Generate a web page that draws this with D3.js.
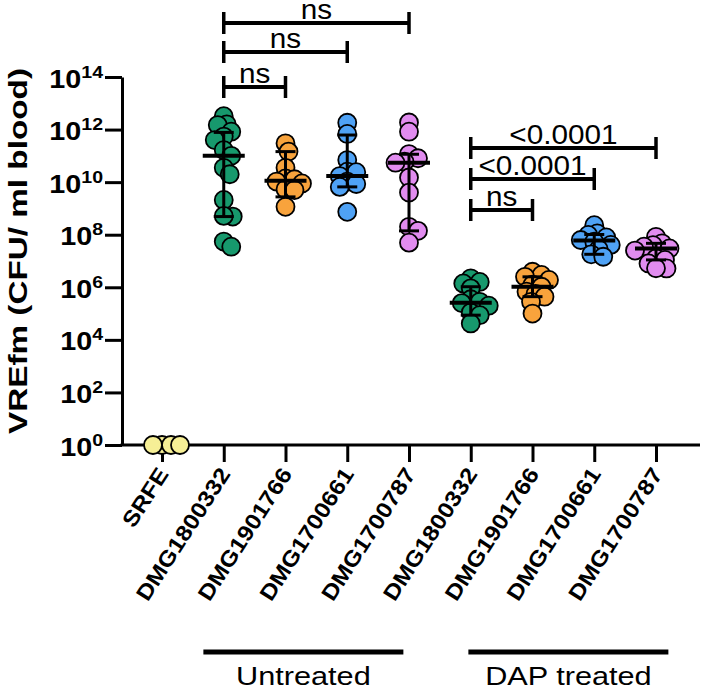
<!DOCTYPE html>
<html><head><meta charset="utf-8">
<script src="https://cdn.jsdelivr.net/npm/d3@7"></script>
<style>
body{margin:0;background:#fff}
text{font-family:"Liberation Sans",Arial,Helvetica,sans-serif;fill:#000}
</style>
</head><body>
<svg id="chart" width="705" height="692"></svg>
<script>
// ---------- data ----------
const categories = ["SRFE","DMG1800332","DMG1901766","DMG1700661","DMG1700787",
                    "DMG1800332","DMG1901766","DMG1700661","DMG1700787"];
const groupColors = ["#f6ef96","#17996d","#f8a33c","#4fa2f5","#e18cef",
                     "#17996d","#f8a33c","#4fa2f5","#e18cef"];
const yTickValues = [1e0,1e2,1e4,1e6,1e8,1e10,1e12,1e14];
const yTickExponents = ["0","2","4","6","8","10","12","14"];

const srfe = [1,1,1,1];
const untreated1800332 = [3.24e12,1.58e12,1.48e12,8.3e11,5.4e11,4.0e11,1.66e11,1.0e11,3.5e10,2.0e10,2.1e9,4.9e8,5.2e8,5.5e7,3.5e7];
const untreated1901766 = [3.0e11,1.45e11,3.5e10,1.38e10,1.29e10,1.05e10,8.9e9,5.4e9,5.0e9,1.15e9];
const untreated1700661 = [1.82e12,6.8e11,6.9e10,2.5e10,2.4e10,1.7e10,1.05e10,8.5e9,6.6e9,7.4e8];
const untreated1700787 = [1.86e12,8.3e11,1.17e11,8.1e10,6.0e10,5.5e10,1.5e10,4.0e9,2.0e8,1.4e8,5.0e7];
const dap1800332 = [2.2e6,1.6e6,1.4e6,9.1e5,3.5e5,2.8e5,2.5e5,2.0e5,1.1e5,8.7e4,4.2e4];
const dap1901766 = [3.9e6,2.95e6,2.5e6,1.9e6,1.26e6,1.05e6,6.8e5,5.6e5,4.4e5,2.8e5,1.0e5];
const dap1700661 = [2.3e8,1.12e8,9.8e7,7.9e7,6.3e7,5.4e7,4.1e7,2.8e7,1.8e7,1.45e7];
const dap1700787 = [8.3e7,4.7e7,4.0e7,3.5e7,3.0e7,2.5e7,1.26e7,1.1e7,8.1e6,5.2e6,5.3e6];

// median and interquartile error bars (null = not drawn)
const medians = [null,1.0e11,1.12e10,1.7e10,5.5e10,2.6e5,1.05e6,6.0e7,3.0e7];
const lowerBars = [null,4.9e8,2.75e9,6.6e9,1.4e8,8.7e4,4.4e5,1.8e7,1.1e7];
const upperBars = [null,7.8e11,1.45e11,6.2e11,1.15e11,1.05e6,2.5e6,1.02e8,4.7e7];

const comparisons = [
  {a:1,b:2,label:"ns",family:"untreated",level:0},
  {a:1,b:3,label:"ns",family:"untreated",level:1},
  {a:1,b:4,label:"ns",family:"untreated",level:2},
  {a:5,b:6,label:"ns",family:"dap",level:0},
  {a:5,b:7,label:"<0.0001",family:"dap",level:1},
  {a:5,b:8,label:"<0.0001",family:"dap",level:2}
];
const groupLabels = [
  {label:"Untreated",first:1,last:4},
  {label:"DAP treated",first:5,last:8}
];
const series = [srfe,untreated1800332,untreated1901766,untreated1700661,untreated1700787,
                dap1800332,dap1901766,dap1700661,dap1700787];

// ---------- layout ----------
const svg = d3.select("#chart");
const axisX = 122, axisBottom = 445, axisTop = 77, axisRight = 700;
const y = d3.scaleLog().domain([1,1e14]).range([axisBottom, axisTop]);
const x = d3.scalePoint().domain(d3.range(categories.length)).range([162,656]);
const R = 9, minDist = 8.6, step = 1.5;

// y axis
const gy = svg.append("g").attr("transform",`translate(${axisX},0)`)
  .call(d3.axisLeft(y).tickValues(yTickValues).tickSize(17).tickSizeOuter(0).tickFormat(""));
gy.select(".domain").attr("stroke","#000").attr("stroke-width",3);
gy.selectAll(".tick line").attr("stroke","#000").attr("stroke-width",3);
gy.selectAll(".tick").each(function(d,i){
  const t = d3.select(this).append("text")
    .attr("transform","translate(-19,10) scale(1.15,1)")
    .attr("text-anchor","end")
    .attr("font-size",25)
    .style("font-weight","bold");
  t.append("tspan").attr("font-size",25).style("font-size","25px").text("10");
  t.append("tspan").attr("dy",-10).attr("font-size",17).style("font-size","17px").text(yTickExponents[i]);
});

// y title
svg.append("text").attr("transform",`translate(27,251) rotate(-90) scale(1.28,1)`)
  .attr("text-anchor","middle").style("font-size","26px").style("font-weight","bold")
  .text("VREfm (CFU/ ml blood)");

// x axis
const gx = svg.append("g").attr("transform",`translate(0,${axisBottom})`)
  .call(d3.axisBottom(x).tickSize(17).tickSizeOuter(0).tickFormat(""));
gx.select(".domain").remove();
gx.selectAll(".tick line").attr("stroke","#000").attr("stroke-width",3);
svg.append("line").attr("x1",axisX-1.5).attr("x2",axisRight).attr("y1",axisBottom).attr("y2",axisBottom)
  .attr("stroke","#000").attr("stroke-width",3);
gx.selectAll(".tick").append("text")
  .attr("transform","translate(7,29) rotate(-57) scale(1.12,1)")
  .attr("text-anchor","end").attr("font-size",22).style("font-size","22px").style("font-weight","bold")
  .text(i=>categories[i]);

// points (beeswarm)
function swarm(vals){
  const placed = [];
  const order = vals.map((v,i)=>i).sort((a,b)=>vals[b]-vals[a]);
  const res = new Array(vals.length);
  for(const i of order){
    const py = y(vals[i]);
    let off = 0;
    for(let n=0;n<200;n++){
      const k = n===0?0:(n%2===1?1:-1)*Math.ceil(n/2);
      const o = k*step;
      if(placed.every(p=>Math.hypot(p.o-o,p.y-py)>=minDist)){off=o;break;}
    }
    placed.push({o:off,y:py});
    res[i]={v:vals[i],off};
  }
  return res;
}
series.forEach((vals,gi)=>{
  const pts = swarm(vals);
  svg.append("g").selectAll("circle").data(pts).join("circle")
    .attr("cx",d=>x(gi)+d.off).attr("cy",d=>y(d.v)).attr("r",R)
    .attr("fill",groupColors[gi]).attr("stroke","#000").attr("stroke-width",1.8);
});

// medians + error bars
const mg = svg.append("g").attr("stroke","#000");
medians.forEach((m,gi)=>{
  if(m==null) return;
  const cx = x(gi);
  mg.append("line").attr("x1",cx).attr("x2",cx).attr("y1",y(upperBars[gi])).attr("y2",y(lowerBars[gi])).attr("stroke-width",3);
  mg.append("line").attr("x1",cx-10).attr("x2",cx+10).attr("y1",y(upperBars[gi])).attr("y2",y(upperBars[gi])).attr("stroke-width",3);
  mg.append("line").attr("x1",cx-10).attr("x2",cx+10).attr("y1",y(lowerBars[gi])).attr("y2",y(lowerBars[gi])).attr("stroke-width",3);
  mg.append("line").attr("x1",cx-21).attr("x2",cx+21).attr("y1",y(m)).attr("y2",y(m)).attr("stroke-width",4);
});

// significance brackets
const bracketBase = {untreated:87, dap:210};
const bracketStep = {untreated:[0,35,64], dap:[0,31,62]};
comparisons.forEach(c=>{
  const by = bracketBase[c.family] - bracketStep[c.family][c.level];
  const x1 = x(c.a), x2 = x(c.b);
  const g = svg.append("g");
  g.append("line").attr("x1",x1).attr("x2",x2).attr("y1",by).attr("y2",by).attr("stroke","#000").attr("stroke-width",4);
  [x1,x2].forEach(xx=>g.append("line").attr("x1",xx).attr("x2",xx).attr("y1",by-11).attr("y2",by+11).attr("stroke","#000").attr("stroke-width",3.5));
  g.append("text").attr("transform",`translate(${(x1+x2)/2},${by-4}) scale(1.1,1)`).attr("text-anchor","middle")
    .style("font-size","27px").text(c.label);
});

// group labels
const groupShift = {"Untreated":-13, "DAP treated":5};
groupLabels.forEach(gl=>{
  const cx = (x(gl.first)+x(gl.last))/2 + groupShift[gl.label];
  svg.append("line").attr("x1",cx-100).attr("x2",cx+100).attr("y1",652).attr("y2",652)
    .attr("stroke","#000").attr("stroke-width",5);
  svg.append("text").attr("transform",`translate(${cx},685) scale(1.18,1)`).attr("text-anchor","middle")
    .style("font-size","26px").text(gl.label);
});
</script>
</body></html>
